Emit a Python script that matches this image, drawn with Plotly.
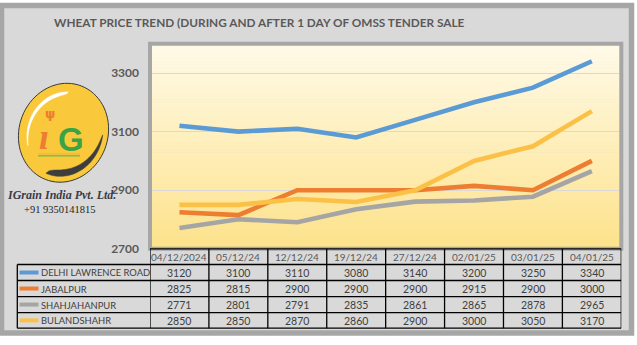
import numpy as np
import plotly.graph_objects as go

# ---- data -------------------------------------------------------------
dates = ["04/12/2024", "05/12/24", "12/12/24", "19/12/24",
         "27/12/24", "02/01/25", "03/01/25", "04/01/25"]
delhi_lawrence_road = [3120, 3100, 3110, 3080, 3140, 3200, 3250, 3340]
jabalpur = [2825, 2815, 2900, 2900, 2900, 2915, 2900, 3000]
shahjahanpur = [2771, 2801, 2791, 2835, 2861, 2865, 2878, 2965]
bulandshahr = [2850, 2850, 2870, 2860, 2900, 3000, 3050, 3170]
series_names = ["DELHI LAWRENCE ROAD", "JABALPUR", "SHAHJAHANPUR", "BULANDSHAHR"]
y_ticks = [2700, 2900, 3100, 3300]
title_text = "WHEAT PRICE TREND (DURING AND AFTER 1 DAY OF OMSS TENDER SALE"
company = "IGrain India Pvt. Ltd."
phone = "+91 9350141815"

series_values = [delhi_lawrence_road, jabalpur, shahjahanpur, bulandshahr]
series_colors = ["#5b9bd5", "#ed7d31", "#a5a5a5", "#fbc146"]

# ---- canvas helpers (pixel -> paper) ------------------------------------
W, H = 637, 345


def px(x):
    return x / W


def py(y):
    return 1 - y / H


PLOT_L, PLOT_R, PLOT_T, PLOT_B = 150.0, 621.3, 44.6, 254.0
HEADER_TOP = 254.0
ROW_LINES = [270.0, 286.3, 302.7, 319.0, 335.0]
TABLE_L = 17.3

TEXT_GREY = "#595959"
CELL_TEXT = "#404040"
FONT = "Lato"

fig = go.Figure()

for name, vals, col in zip(series_names, series_values, series_colors):
    fig.add_trace(go.Scatter(
        x=dates, y=vals, mode="lines", name=name,
        line=dict(color=col, width=4.6), hoverinfo="skip", showlegend=False,
    ))

shapes = []
annotations = []

# chart area with thick grey frame
shapes.append(dict(type="rect", xref="paper", yref="paper",
                   x0=px(1.5), x1=px(631.5), y0=py(340), y1=py(5.5),
                   line=dict(color="#a6a6a6", width=5.5), fillcolor="#d9d9d9",
                   layer="below"))

# plot-area gradient (light cream at top to warm yellow at bottom)
top_rgb = np.array([255, 250, 233])
bot_rgb = np.array([253, 226, 138])
n_bands = 70
edges = np.linspace(PLOT_T, PLOT_B, n_bands + 1)
for i in range(n_bands):
    f = (i + 0.5) / n_bands
    c = top_rgb + (bot_rgb - top_rgb) * f
    shapes.append(dict(type="rect", xref="paper", yref="paper",
                       x0=px(PLOT_L), x1=px(PLOT_R),
                       y0=py(edges[i + 1] + 0.5), y1=py(edges[i]),
                       line=dict(width=0),
                       fillcolor="rgb(%d,%d,%d)" % tuple(c.round()),
                       layer="below"))

# plot-area frame
shapes.append(dict(type="rect", xref="paper", yref="paper",
                   x0=px(PLOT_L), x1=px(PLOT_R), y0=py(PLOT_B), y1=py(PLOT_T),
                   line=dict(color="#a6a6a6", width=4), fillcolor="rgba(0,0,0,0)",
                   layer="above"))

# ---- data table under the plot ------------------------------------------
line_k = dict(color="#000000", width=1.3)
n_cat = len(dates)
# vertical column borders follow the category axis
for i in range(n_cat + 1):
    shapes.append(dict(type="line", xref="x", yref="paper",
                       x0=i - 0.5, x1=i - 0.5, y0=py(ROW_LINES[-1]), y1=py(HEADER_TOP),
                       line=line_k, layer="above"))
# horizontal borders across data columns
for yy in [HEADER_TOP] + ROW_LINES:
    shapes.append(dict(type="line", xref="x", yref="paper",
                       x0=-0.5, x1=n_cat - 0.5, y0=py(yy), y1=py(yy),
                       line=line_k, layer="above"))
# legend-key column box
for yy in ROW_LINES:
    shapes.append(dict(type="line", xref="paper", yref="paper",
                       x0=px(TABLE_L), x1=px(PLOT_L), y0=py(yy), y1=py(yy),
                       line=line_k, layer="above"))
shapes.append(dict(type="line", xref="paper", yref="paper",
                   x0=px(TABLE_L), x1=px(TABLE_L), y0=py(ROW_LINES[-1]), y1=py(ROW_LINES[0]),
                   line=line_k, layer="above"))

# header labels
for d in dates:
    annotations.append(dict(x=d, xref="x", y=py((HEADER_TOP + ROW_LINES[0]) / 2 + 0.5),
                            yref="paper", text=d, showarrow=False, xanchor="center",
                            yanchor="middle",
                            font=dict(family=FONT, size=10, color=TEXT_GREY)))

# rows: legend key, series name, values
for r, (name, vals, col) in enumerate(zip(series_names, series_values, series_colors)):
    yc = (ROW_LINES[r] + ROW_LINES[r + 1]) / 2
    shapes.append(dict(type="line", xref="paper", yref="paper",
                       x0=px(19.5), x1=px(38.5), y0=py(yc), y1=py(yc),
                       line=dict(color=col, width=4), layer="above"))
    annotations.append(dict(x=px(39), xref="paper", y=py(yc + 0.5), yref="paper",
                            text=name, showarrow=False, xanchor="left", yanchor="middle",
                            font=dict(family=FONT, size=9.4, color=CELL_TEXT)))
    for d, v in zip(dates, vals):
        annotations.append(dict(x=d, xref="x", y=py(yc + 0.5), yref="paper",
                                text=str(v), showarrow=False, xanchor="center",
                                yanchor="middle",
                                font=dict(family=FONT, size=10.5, color=CELL_TEXT)))

# title
annotations.append(dict(x=px(259.5), xref="paper", y=py(22.5), yref="paper",
                        text="<b>%s</b>" % title_text, showarrow=False,
                        xanchor="center", yanchor="middle",
                        font=dict(family=FONT, size=11.8, color=TEXT_GREY)))


# ---- company logo --------------------------------------------------------
LOGO_CX, LOGO_CY, LOGO_ANGLE = 63.5, 135.5, 17


def rotate(ex, ey, angle_deg):
    a = np.deg2rad(angle_deg)
    return (LOGO_CX + ex * np.cos(a) - ey * np.sin(a),
            LOGO_CY + ex * np.sin(a) + ey * np.cos(a))


def to_path(points):
    return "M " + " L ".join("%.5f,%.5f" % (px(x), py(y)) for x, y in points) + " Z"


def ellipse_path(rx, ry, n=80):
    t = np.linspace(0, 2 * np.pi, n, endpoint=False)
    return to_path([rotate(rx * np.cos(ti), ry * np.sin(ti), LOGO_ANGLE) for ti in t])


def arc_band(rx, ry, t0, t1, thickness, n=40):
    """Crescent inside the logo ellipse: thin at t0, widest near t1, rounded off."""
    t = np.deg2rad(np.linspace(t0, t1, n))
    s = np.linspace(0, 1, n)
    w = s ** 0.7 * np.sqrt(np.clip(1 - s ** 6, 0, 1))
    outer = [rotate(rx * np.cos(ti), ry * np.sin(ti), LOGO_ANGLE) for ti in t]
    inner = [rotate((rx - thickness * wi) * np.cos(ti), (ry - thickness * wi) * np.sin(ti),
                    LOGO_ANGLE) for ti, wi in zip(t, w)]
    return to_path(outer + inner[::-1])


shapes.append(dict(type="path", xref="paper", yref="paper",
                   path=ellipse_path(44.5, 51),
                   fillcolor="#f9c83b", line=dict(color="#3a3a3a", width=1),
                   layer="above"))
# glossy highlight along the upper-left rim
shapes.append(dict(type="path", xref="paper", yref="paper",
                   path=arc_band(36, 42, 147, 258, 4.5),
                   fillcolor="#ffffff", line=dict(color="#ffffff", width=0.6),
                   layer="above"))
# dark swoosh along the lower-right rim
shapes.append(dict(type="path", xref="paper", yref="paper",
                   path=arc_band(39, 45, -12, 97, 9),
                   fillcolor="#3d3d3d", line=dict(color="#3d3d3d", width=0.5),
                   layer="above"))
# underline stripes
shapes.append(dict(type="line", xref="paper", yref="paper",
                   x0=px(38), x1=px(80), y0=py(157), y1=py(157),
                   line=dict(color="#e7b94a", width=1.2), layer="above"))
shapes.append(dict(type="line", xref="paper", yref="paper",
                   x0=px(38), x1=px(80), y0=py(159), y1=py(159),
                   line=dict(color="#7dbf4a", width=1.6), layer="above"))

annotations.append(dict(x=px(44), xref="paper", y=py(140), yref="paper",
                        text="<b><i>ı</i></b>", showarrow=False, xanchor="center",
                        yanchor="middle",
                        font=dict(family="Liberation Serif", size=36, color="#ed7d31")))
annotations.append(dict(x=px(49.5), xref="paper", y=py(116), yref="paper",
                        text="<b>ψ</b>", showarrow=False, xanchor="center",
                        yanchor="middle",
                        font=dict(family="DejaVu Sans", size=13, color="#ed7d31")))
annotations.append(dict(x=px(70.5), xref="paper", y=py(142.5), yref="paper",
                        text="<b>G</b>", showarrow=False, xanchor="center",
                        yanchor="middle",
                        font=dict(family="Liberation Sans", size=33, color="#3aa348")))
annotations.append(dict(x=px(61), xref="paper", y=py(199), yref="paper",
                        text="<b><i>%s</i></b>" % company, showarrow=False,
                        xanchor="center", yanchor="middle",
                        font=dict(family="Liberation Serif", size=12, color="#3b3b48")))
annotations.append(dict(x=px(59.5), xref="paper", y=py(213.5), yref="paper",
                        text=phone, showarrow=False, xanchor="center", yanchor="middle",
                        font=dict(family="Liberation Serif", size=10.5, color="#222222")))

fig.update_layout(
    width=W, height=H,
    margin=dict(l=0, r=0, t=0, b=0),
    paper_bgcolor="#ffffff",
    plot_bgcolor="rgba(0,0,0,0)",
    showlegend=False,
    shapes=shapes,
    annotations=annotations,
    xaxis=dict(domain=[px(PLOT_L), px(PLOT_R)], type="category",
               range=[-0.5, n_cat - 0.5], showticklabels=False, showgrid=False,
               zeroline=False, showline=False, ticks="", fixedrange=True),
    yaxis=dict(domain=[py(PLOT_B), py(PLOT_T)], range=[2700, 3400],
               tickvals=y_ticks, ticktext=["<b>%d</b>" % v for v in y_ticks],
               showgrid=True, gridcolor="#d9d9d9", gridwidth=1,
               zeroline=False, showline=False, ticks="", ticklabelstandoff=10,
               tickfont=dict(family=FONT, size=12, color=TEXT_GREY), fixedrange=True),
)

fig.write_html("out.html")
